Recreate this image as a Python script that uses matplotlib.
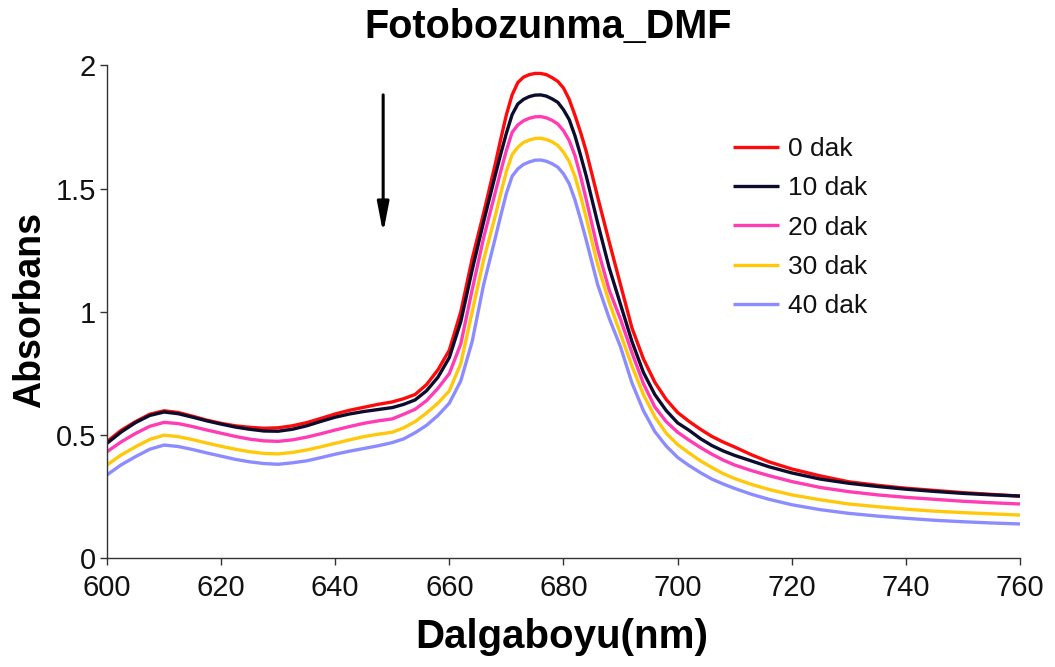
import matplotlib
matplotlib.use("Agg")
import matplotlib.pyplot as plt

# Wavelength grid (nm) and absorbance for each irradiation time
wavelength = [600, 602.5, 605, 607.5, 610, 612.5, 615, 617.5, 620, 622.5, 625,
              627.5, 630, 632.5, 635, 637.5, 640, 642.5, 645, 647.5, 650,
              652, 654, 656, 658, 660, 662, 664, 666,
              668, 669, 670, 671, 672, 673, 674, 675, 676, 677, 678, 679, 680,
              681, 682, 683, 684,
              686, 688, 690, 692, 694, 696, 698, 700, 702, 704, 706, 708, 710,
              713, 716, 720, 725, 730, 735, 740, 745, 750, 755, 760]

abs_0min = [0.474, 0.520, 0.555, 0.585, 0.599, 0.592, 0.577, 0.561, 0.548, 0.538, 0.532,
            0.528, 0.530, 0.538, 0.551, 0.568, 0.586, 0.601, 0.613, 0.625, 0.635,
            0.648, 0.665, 0.705, 0.765, 0.845, 1.000, 1.215, 1.400,
            1.595, 1.700, 1.800, 1.880, 1.930, 1.952, 1.962, 1.967, 1.967, 1.962, 1.950, 1.935, 1.908,
            1.862, 1.798, 1.728, 1.650,
            1.465, 1.285, 1.110, 0.935, 0.810, 0.715, 0.645, 0.592, 0.556, 0.524, 0.495, 0.472, 0.452,
            0.420, 0.392, 0.363, 0.335, 0.311, 0.297, 0.285, 0.276, 0.267, 0.260, 0.253]

abs_10min = [0.467, 0.513, 0.551, 0.580, 0.594, 0.587, 0.573, 0.558, 0.545, 0.533, 0.524,
             0.517, 0.516, 0.524, 0.538, 0.556, 0.573, 0.586, 0.596, 0.604, 0.612,
             0.625, 0.643, 0.680, 0.735, 0.815, 0.960, 1.170, 1.365,
             1.550, 1.640, 1.725, 1.800, 1.843, 1.862, 1.873, 1.879, 1.880, 1.875, 1.864, 1.850, 1.820,
             1.780, 1.715, 1.635, 1.550,
             1.360, 1.180, 1.030, 0.880, 0.755, 0.665, 0.600, 0.550, 0.520, 0.486, 0.458, 0.436, 0.418,
             0.395, 0.372, 0.347, 0.322, 0.305, 0.292, 0.281, 0.272, 0.264, 0.258, 0.253]

abs_20min = [0.433, 0.473, 0.507, 0.536, 0.552, 0.547, 0.535, 0.521, 0.508, 0.495, 0.484,
             0.477, 0.475, 0.481, 0.492, 0.506, 0.521, 0.535, 0.548, 0.558, 0.566,
             0.585, 0.605, 0.640, 0.690, 0.750, 0.870, 1.090, 1.300,
             1.480, 1.570, 1.655, 1.728, 1.758, 1.775, 1.785, 1.791, 1.792, 1.787, 1.777, 1.762, 1.735,
             1.695, 1.635, 1.550, 1.455,
             1.255, 1.090, 0.970, 0.835, 0.710, 0.615, 0.555, 0.512, 0.480, 0.450, 0.423, 0.399, 0.379,
             0.356, 0.336, 0.312, 0.288, 0.271, 0.258, 0.248, 0.240, 0.232, 0.226, 0.221]

abs_30min = [0.379, 0.420, 0.453, 0.483, 0.500, 0.494, 0.482, 0.468, 0.455, 0.443, 0.433,
             0.426, 0.424, 0.430, 0.440, 0.453, 0.467, 0.481, 0.494, 0.504, 0.512,
             0.530, 0.555, 0.590, 0.630, 0.680, 0.790, 1.000, 1.210,
             1.385, 1.480, 1.570, 1.638, 1.668, 1.687, 1.697, 1.703, 1.704, 1.699, 1.690, 1.675, 1.648,
             1.610, 1.550, 1.470, 1.380,
             1.190, 1.040, 0.910, 0.780, 0.665, 0.575, 0.508, 0.462, 0.428, 0.396, 0.369, 0.344, 0.324,
             0.300, 0.280, 0.258, 0.238, 0.221, 0.210, 0.200, 0.192, 0.186, 0.181, 0.176]

abs_40min = [0.339, 0.380, 0.413, 0.443, 0.460, 0.454, 0.442, 0.428, 0.415, 0.402, 0.392,
             0.385, 0.382, 0.388, 0.396, 0.409, 0.423, 0.435, 0.446, 0.457, 0.470,
             0.485, 0.510, 0.540, 0.580, 0.630, 0.720, 0.880, 1.110,
             1.295, 1.390, 1.481, 1.550, 1.580, 1.598, 1.608, 1.615, 1.616, 1.611, 1.601, 1.587, 1.560,
             1.520, 1.455, 1.375, 1.290,
             1.110, 0.975, 0.858, 0.712, 0.600, 0.515, 0.456, 0.410, 0.377, 0.348, 0.322, 0.302, 0.284,
             0.260, 0.240, 0.218, 0.198, 0.183, 0.172, 0.163, 0.155, 0.149, 0.144, 0.140]

series = [abs_0min, abs_10min, abs_20min, abs_30min, abs_40min]
labels = ["0 dak", "10 dak", "20 dak", "30 dak", "40 dak"]
colors = ["#ff0a0a", "#0c0c2e", "#ff3cb4", "#ffc80a", "#8c8cff"]

x_ticks = [600, 620, 640, 660, 680, 700, 720, 740, 760]
y_ticks = [0, 0.5, 1, 1.5, 2]
y_tick_labels = ["0", "0.5", "1", "1.5", "2"]

# Arrow marking the decrease of the Q band with time
arrow_x = 648.4
arrow_top, arrow_tip = 1.88, 1.32

FONT = ["Liberation Sans", "DejaVu Sans"]
plt.rcParams["font.family"] = FONT

fig = plt.figure(figsize=(10.55, 6.67), dpi=100)
ax = fig.add_axes([0.1014, 0.1627, 0.8654, 0.7394])

for vals, lab, col in zip(series, labels, colors):
    ax.plot(wavelength, vals, color=col, lw=2.4, label=lab,
            solid_joinstyle="round", solid_capstyle="butt")

ax.set_xlim(600, 760)
ax.set_ylim(0, 2)
ax.set_xticks(x_ticks)
ax.set_yticks(y_ticks)
ax.set_yticklabels(y_tick_labels)

for side in ("top", "right"):
    ax.spines[side].set_visible(False)
for side in ("left", "bottom"):
    ax.spines[side].set_color("#333333")
    ax.spines[side].set_linewidth(1.0)

ax.tick_params(direction="out", length=5, width=1.0, color="#333333",
               labelcolor="#111111", labelsize=21)
ax.tick_params(axis="x", pad=6)
ax.tick_params(axis="y", pad=3)

ax.annotate("", xy=(arrow_x, arrow_tip), xytext=(arrow_x, arrow_top),
            arrowprops=dict(arrowstyle="-|>,head_length=1.8,head_width=0.35",
                            mutation_scale=10, lw=2.2, color="black",
                            shrinkA=0, shrinkB=0))

fig.text(548 / 1055, 1 - 27 / 667, "Fotobozunma_DMF", ha="center", va="center",
         fontsize=28.5, fontweight="bold")
fig.text(562 / 1055, 1 - 637 / 667, "Dalgaboyu(nm)", ha="center", va="center",
         fontsize=29, fontweight="bold")
fig.text(30 / 1055, 1 - 310 / 667, "Absorbans", ha="center", va="center",
         rotation=90, fontsize=27, fontweight="bold")

leg = ax.legend(loc="upper left", bbox_to_anchor=(733 / 1055, 1 - 137 / 667),
                bbox_transform=fig.transFigure, frameon=False, borderpad=0,
                borderaxespad=0, handlelength=1.75, handletextpad=0.35,
                labelspacing=0.58, prop={"size": 19})
for t in leg.get_texts():
    t.set_color("#111111")

fig.savefig("out.png", dpi=100)
